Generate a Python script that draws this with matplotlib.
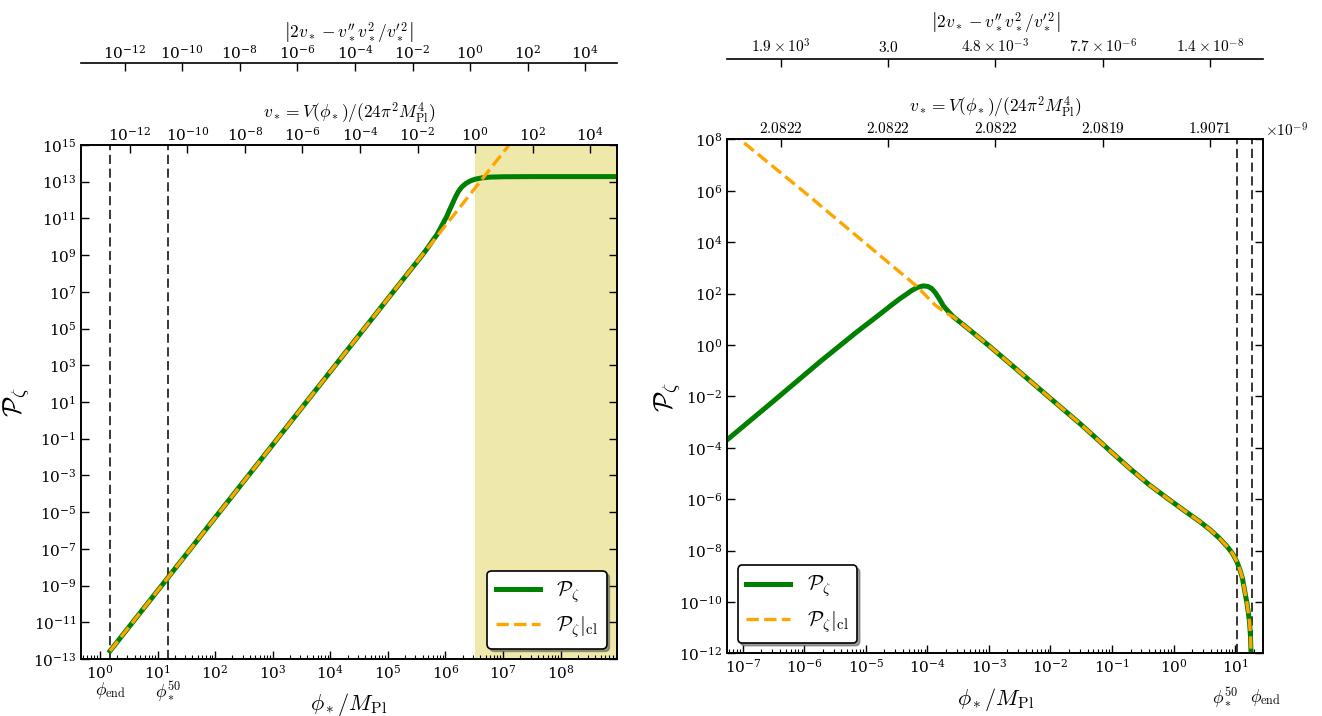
import matplotlib
matplotlib.use("Agg")
import matplotlib.pyplot as plt
import matplotlib.transforms as mtransforms
from matplotlib.ticker import FixedLocator, LogLocator, NullLocator, NullFormatter

plt.rcParams['mathtext.fontset'] = 'cm'
plt.rcParams['font.family'] = 'serif'
plt.rcParams['font.serif'] = ['DejaVu Serif']
plt.rcParams['axes.linewidth'] = 1.2

# ---- left panel: values ----
phi_left = [1.5, 15.0, 1e2, 1e3, 1e4, 1e5, 4.0e5, 5.0e5, 6.0e5, 7.1e5, 8.3e5, 9.3e5,
            1.05e6, 1.17e6, 1.32e6, 1.48e6, 1.66e6, 1.9e6, 2.24e6, 2.7e6, 3.3e6,
            4.3e6, 6.0e6, 1e7, 3.16e7, 1e8, 9.5e8]
P_left = [2.75e-13, 2.6e-9, 5.0e-6, 4.7e-2, 4.5e2, 4.3e6, 1.05e9, 2.7e9, 6.3e9, 1.3e10,
          3.2e10, 6.3e10, 1.26e11, 2.8e11, 6.3e11, 1.4e12, 2.8e12, 5.0e12, 7.9e12,
          1.1e13, 1.38e13, 1.62e13, 1.78e13, 1.86e13, 1.9e13, 1.9e13, 1.9e13]
phi_left_cl = [1.5, 15.0, 1e3, 1e5, 1e6, 1.3e7]
P_left_cl = [2.75e-13, 2.6e-9, 4.7e-2, 4.3e6, 4.1e10, 1.1e15]
phi_end_left = 1.5
phi_50_left = 15.1
phi_v_one_left = 3.25e6          # where v_* = 1 (shaded region)
xlim_left = (0.47, 9.5e8)
v_coef_left = 9.3e-14            # v_* against phi_*^2
eta_coef_left = 1.5              # |2v - v'' v^2 / v'^2| against v_*
v_ticks_left = [1e-12, 1e-10, 1e-8, 1e-6, 1e-4, 1e-2, 1e0, 1e2, 1e4]

# ---- right panel ----
phi_right = [5.5e-8, 3.16e-7, 1.9e-6, 7.1e-6, 1.58e-5, 2.45e-5, 3.55e-5, 4.57e-5,
             5.62e-5, 6.9e-5, 8.5e-5, 1.02e-4, 1.17e-4, 1.35e-4, 1.58e-4, 1.82e-4,
             2.19e-4, 2.63e-4, 3.55e-4, 4.9e-4, 1.05e-3, 3.16e-3, 1e-2, 3.16e-2,
             0.1, 0.2, 0.398, 0.776, 1.445, 2.69, 3.98, 5.62, 7.41, 9.12, 10.7, 12.0,
             13.2, 14.55, 15.5, 16.5, 17.2, 17.8, 18.2, 18.6]
P_right = [2.0e-4, 6.6e-3, 0.25, 3.2, 14, 32, 63, 95,
           135, 174, 200, 190, 158, 107, 60, 33,
           20, 12.6, 7.1, 3.8, 0.85, 8.9e-2, 8.3e-3, 7.9e-4,
           6.5e-5, 1.48e-5, 3.7e-6, 1.12e-6, 3.8e-7, 1.32e-7, 6.3e-8, 2.95e-8, 1.45e-8,
           7.6e-9, 3.7e-9, 1.78e-9, 8.3e-10, 2.2e-10, 1.0e-10, 3.6e-11, 1.58e-11,
           5.0e-12, 1.0e-12, 1.0e-13]
phi_right_cl = [6.3e-8, 1e-6, 1.32e-5, 6.6e-5, 1.35e-4, 2.04e-4, 2.63e-4, 3.55e-4,
                4.9e-4, 1.05e-3, 3.16e-3, 1e-2, 3.16e-2, 0.1, 0.2, 0.398, 0.776, 1.445,
                2.69, 3.98, 5.62, 7.41, 9.12, 10.7, 12.0, 13.2, 14.55, 15.5, 16.5, 17.2,
                17.8, 18.2, 18.6]
P_right_cl = [2.0e8, 8.9e5, 5.0e3, 2.0e2, 35, 17, 12.6, 7.1,
              3.8, 0.85, 8.9e-2, 8.3e-3, 7.9e-4, 6.5e-5, 1.48e-5, 3.7e-6, 1.12e-6, 3.8e-7,
              1.32e-7, 6.3e-8, 2.95e-8, 1.45e-8, 7.6e-9, 3.7e-9, 1.78e-9, 8.3e-10,
              2.2e-10, 1.0e-10, 3.6e-11, 1.58e-11, 5.0e-12, 1.0e-12, 1.0e-13]
phi_50_right = 10.9
phi_end_right = 19.1
xlim_right = (5.6e-8, 28.8)
top_tick_pos_right = [0.1, 0.3, 0.5, 0.7, 0.9]
v_labels_right = ['2.0822', '2.0822', '2.0822', '2.0819', '1.9071']
eta_labels_right = [r'1.9\times10^{3}', '3.0', r'4.8\times10^{-3}',
                    r'7.7\times10^{-6}', r'1.4\times10^{-8}']

GREEN = 'green'
ORANGE = 'orange'
TICK_FS = 11
LABEL_V = r'$v_* = V(\phi_*)/(24\pi^2 M_{\rm Pl}^4)$'
LABEL_ETA = r'$\left|2v_* - v_*^{\prime\prime}v_*^2/v_*^{\prime\,2}\right|$'


def style_main(ax, ylim, yticks, xlim):
    ax.set_xscale('log')
    ax.set_yscale('log')
    ax.set_xlim(*xlim)
    ax.set_ylim(*ylim)
    ax.yaxis.set_major_locator(FixedLocator(yticks))
    ax.yaxis.set_minor_locator(NullLocator())
    ax.xaxis.set_major_locator(LogLocator(base=10, numticks=30))
    ax.xaxis.set_minor_locator(LogLocator(base=10, subs=range(2, 10), numticks=30))
    ax.xaxis.set_minor_formatter(NullFormatter())
    ax.tick_params(which='both', direction='in', left=True, right=True, labelsize=TICK_FS)
    ax.tick_params(which='major', length=6, width=1.0)
    ax.tick_params(which='minor', length=3, width=0.8)
    ax.set_xlabel(r'$\phi_*/M_{\rm Pl}$', fontsize=16, labelpad=7)
    ax.set_ylabel(r'$\mathcal{P}_\zeta$', fontsize=19)


def style_top(axt, pad):
    axt.xaxis.set_minor_locator(NullLocator())
    axt.tick_params(which='both', direction='in', labelsize=TICK_FS, length=6,
                    width=1.0, pad=pad)


def add_outer(ax, offset, pad, labelpad):
    axo = ax.twiny()
    axo.spines['top'].set_position(('axes', offset))
    for s in ['left', 'right', 'bottom']:
        axo.spines[s].set_visible(False)
    style_top(axo, pad)
    axo.set_xlabel(LABEL_ETA, fontsize=12.5, labelpad=labelpad)
    return axo


def add_legend(ax, loc):
    leg = ax.legend(loc=loc, fontsize=15, shadow=True, fancybox=True,
                    framealpha=1, edgecolor='k', handlelength=2.1, labelspacing=0.45)
    leg.get_frame().set_linewidth(1.2)


fig = plt.figure(figsize=(13.22, 7.16), dpi=100)

# ---------------- left ----------------
axL = fig.add_axes([0.0613, 0.0796, 0.4054, 0.7179])
style_main(axL, (1e-13, 1e15), [10.0 ** k for k in range(-13, 16, 2)], xlim_left)
axL.yaxis.set_label_coords(-0.092, 0.5)
axL.axvspan(phi_v_one_left, xlim_left[1], color='palegoldenrod', zorder=0, lw=0)
axL.axvline(phi_end_left, color='k', ls=(0, (6, 3)), lw=1.1)
axL.axvline(phi_50_left, color='k', ls=(0, (6, 3)), lw=1.1)
axL.plot(phi_left, P_left, color=GREEN, lw=3.6, label=r'$\mathcal{P}_\zeta$')
axL.plot(phi_left_cl, P_left_cl, color=ORANGE, lw=2.4, ls='--',
         label=r'$\mathcal{P}_\zeta|_{\rm cl}$')
add_legend(axL, 'lower right')
trL = mtransforms.blended_transform_factory(axL.transData, axL.transAxes)
axL.text(phi_end_left, -0.062, r'$\phi_{\rm end}$', transform=trL, ha='center',
         va='center', fontsize=12.5)
axL.text(phi_50_left, -0.062, r'$\phi_*^{50}$', transform=trL, ha='center',
         va='center', fontsize=12.5)

axvL = axL.twiny()
axvL.set_xscale('log')
axvL.set_xlim(v_coef_left * xlim_left[0] ** 2, v_coef_left * xlim_left[1] ** 2)
axvL.xaxis.set_major_locator(FixedLocator(v_ticks_left))
style_top(axvL, 1.0)
axvL.set_xlabel(LABEL_V, fontsize=12.5, labelpad=5)

axoL = add_outer(axL, 1.159, 0.8, 4.5)
axoL.set_xscale('log')
axoL.set_xlim(eta_coef_left * v_coef_left * xlim_left[0] ** 2,
              eta_coef_left * v_coef_left * xlim_left[1] ** 2)
axoL.xaxis.set_major_locator(FixedLocator(v_ticks_left))
axoL.xaxis.set_minor_locator(NullLocator())

# ---------------- right ----------------
axR = fig.add_axes([0.5502, 0.0876, 0.4054, 0.7176])
style_main(axR, (1e-12, 1e8), [10.0 ** k for k in range(-12, 9, 2)], xlim_right)
axR.yaxis.set_label_coords(-0.082, 0.5)
axR.axvline(phi_50_right, color='k', ls=(0, (6, 3)), lw=1.1)
axR.axvline(phi_end_right, color='k', ls=(0, (6, 3)), lw=1.1)
axR.plot(phi_right, P_right, color=GREEN, lw=3.6, label=r'$\mathcal{P}_\zeta$')
axR.plot(phi_right_cl, P_right_cl, color=ORANGE, lw=2.4, ls='--',
         label=r'$\mathcal{P}_\zeta|_{\rm cl}$')
add_legend(axR, 'lower left')
trR = mtransforms.blended_transform_factory(axR.transData, axR.transAxes)
axR.text(phi_50_right * 1.05, -0.086, r'$\phi_*^{50}$', transform=trR, ha='right',
         va='center', fontsize=12.5)
axR.text(phi_end_right * 0.93, -0.086, r'$\phi_{\rm end}$', transform=trR, ha='left',
         va='center', fontsize=12.5)

axvR = axR.twiny()
axvR.set_xlim(0, 1)
axvR.xaxis.set_major_locator(FixedLocator(top_tick_pos_right))
axvR.set_xticklabels(['$%s$' % s for s in v_labels_right])
style_top(axvR, 2.5)
axvR.set_xlabel(LABEL_V, fontsize=12.5, labelpad=6)
axR.text(1.004, 1.018, r'$\times10^{-9}$', transform=axR.transAxes, ha='left',
         va='center', fontsize=TICK_FS)

axoR = add_outer(axR, 1.157, 2.5, 6)
axoR.set_xlim(0, 1)
axoR.xaxis.set_major_locator(FixedLocator(top_tick_pos_right))
axoR.set_xticklabels(['$%s$' % s for s in eta_labels_right])

fig.savefig('out.png', dpi=100)
